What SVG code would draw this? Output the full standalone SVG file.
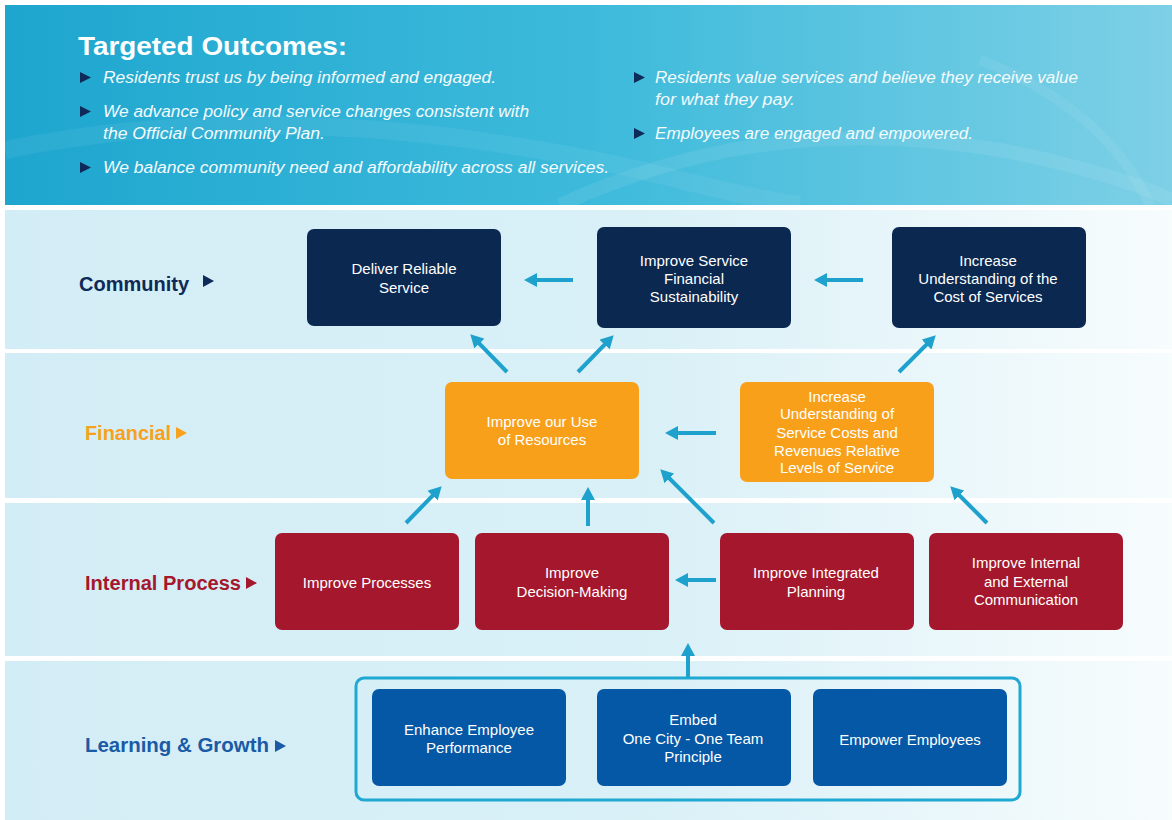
<svg xmlns="http://www.w3.org/2000/svg" width="1172" height="820" viewBox="0 0 1172 820">
  <defs>
    <linearGradient id="hdrGrad" x1="0" y1="0" x2="1" y2="0">
      <stop offset="0" stop-color="#1ea6cf"/>
      <stop offset="0.5" stop-color="#3dbadb"/>
      <stop offset="1" stop-color="#7dd0e6"/>
    </linearGradient>
    <linearGradient id="bandGrad" x1="0" y1="0" x2="1" y2="0">
      <stop offset="0" stop-color="#d3edf6"/>
      <stop offset="0.55" stop-color="#d9f0f7"/>
      <stop offset="1" stop-color="#f7fcfd"/>
    </linearGradient>
    <marker id="arrow" viewBox="0 0 13 14" refX="7" refY="7" markerWidth="13" markerHeight="14" markerUnits="userSpaceOnUse" orient="auto">
      <path d="M0,0 L13,7 L0,14 z" fill="#1ea2cd"/>
    </marker>
    <style>
      .title { font-family: "Liberation Sans", Arial, sans-serif; font-weight: bold; font-size: 26px; fill: #ffffff; }
      .bullet { font-family: "Liberation Sans", Arial, sans-serif; font-style: italic; font-size: 16px; fill: #f4fbfd; }
      .btri { fill: #0d2a58; }
      .row { font-family: "Liberation Sans", Arial, sans-serif; font-weight: bold; font-size: 20px; }
      .node text { font-family: "Liberation Sans", Arial, sans-serif; font-size: 15px; fill: #ffffff; text-anchor: middle; }
      .navy rect { fill: #0b2851; }
      .orange rect { fill: #f9a01b; }
      .red rect { fill: #a5172c; }
      .blue rect { fill: #0558a6; }
      .conn line { stroke: #1ea2cd; stroke-width: 4; marker-end: url(#arrow); }
    </style>
  </defs>

  <rect x="0" y="0" width="1172" height="820" fill="#ffffff"/>

  <!-- header panel -->
  <rect x="5" y="5" width="1167" height="200" fill="url(#hdrGrad)"/>
  <path d="M560,205 C680,150 820,120 1000,150 C1080,165 1140,185 1172,200" fill="none" stroke="#ffffff" stroke-opacity="0.08" stroke-width="14"/>
  <path d="M5,150 C200,110 420,120 640,170 C700,185 760,200 800,205" fill="none" stroke="#ffffff" stroke-opacity="0.06" stroke-width="18"/>
  <path d="M980,60 C1060,90 1120,140 1150,205" fill="none" stroke="#ffffff" stroke-opacity="0.07" stroke-width="10"/>

  <text class="title" x="78" y="55" textLength="269" lengthAdjust="spacingAndGlyphs">Targeted Outcomes:</text>

  <g id="outcomes">
    <polygon class="btri" points="80,72 91,77.5 80,83"/>
    <text class="bullet" x="103" y="83" textLength="393" lengthAdjust="spacingAndGlyphs">Residents trust us by being informed and engaged.</text>
    <polygon class="btri" points="80,106 91,111.5 80,117"/>
    <text class="bullet" x="103" y="117" textLength="426" lengthAdjust="spacingAndGlyphs">We advance policy and service changes consistent with</text>
    <text class="bullet" x="103" y="139" textLength="222" lengthAdjust="spacingAndGlyphs">the Official Community Plan.</text>
    <polygon class="btri" points="80,162 91,167.5 80,173"/>
    <text class="bullet" x="103" y="173" textLength="506" lengthAdjust="spacingAndGlyphs">We balance community need and affordability across all services.</text>
    <polygon class="btri" points="634,72 645,77.5 634,83"/>
    <text class="bullet" x="655" y="83" textLength="423" lengthAdjust="spacingAndGlyphs">Residents value services and believe they receive value</text>
    <text class="bullet" x="655" y="105" textLength="140" lengthAdjust="spacingAndGlyphs">for what they pay.</text>
    <polygon class="btri" points="634,128 645,133.5 634,139"/>
    <text class="bullet" x="655" y="139" textLength="318" lengthAdjust="spacingAndGlyphs">Employees are engaged and empowered.</text>
  </g>

  <!-- perspective bands -->
  <rect x="5" y="210" width="1167" height="139" fill="url(#bandGrad)"/>
  <rect x="5" y="353" width="1167" height="145" fill="url(#bandGrad)"/>
  <rect x="5" y="503" width="1167" height="153" fill="url(#bandGrad)"/>
  <rect x="5" y="661" width="1167" height="159" fill="url(#bandGrad)"/>

  <!-- band labels -->
  <g id="label-community">
    <text class="row" x="79" y="291" fill="#0d2a58" textLength="110" lengthAdjust="spacingAndGlyphs">Community</text>
    <polygon points="203,275 214,281 203,287" fill="#0d2a58"/>
  </g>
  <g id="label-financial">
    <text class="row" x="85" y="440" fill="#f7a11c" textLength="86" lengthAdjust="spacingAndGlyphs">Financial</text>
    <polygon points="176,427 187,433 176,439" fill="#f7a11c"/>
  </g>
  <g id="label-internal">
    <text class="row" x="85" y="590" fill="#a5172c" textLength="156" lengthAdjust="spacingAndGlyphs">Internal Process</text>
    <polygon points="246,577 257,583 246,589" fill="#a5172c"/>
  </g>
  <g id="label-learning">
    <text class="row" x="85" y="752" fill="#1a5aa6" textLength="184" lengthAdjust="spacingAndGlyphs">Learning &amp; Growth</text>
    <polygon points="275,740 286,746 275,752" fill="#1a5aa6"/>
  </g>

  <!-- Learning & Growth grouping frame -->
  <rect x="356" y="678" width="664" height="122" rx="8" fill="none" stroke="#1fa8d2" stroke-width="3"/>

  <!-- connectors -->
  <g id="connectors" class="conn">
    <line x1="573" y1="280" x2="530" y2="280"/>
    <line x1="863" y1="280" x2="820" y2="280"/>
    <line x1="716" y1="433" x2="671" y2="433"/>
    <line x1="716" y1="580" x2="681" y2="580"/>
    <line x1="507" y1="372" x2="474.5" y2="338.6"/>
    <line x1="578" y1="372" x2="609.5" y2="339.6"/>
    <line x1="899" y1="372" x2="931.5" y2="339.6"/>
    <line x1="406" y1="523" x2="437.5" y2="490.6"/>
    <line x1="588" y1="526" x2="588" y2="493"/>
    <line x1="714" y1="523" x2="664.5" y2="473.5"/>
    <line x1="987" y1="523" x2="954.5" y2="490.5"/>
    <line x1="688" y1="677" x2="688" y2="649"/>
  </g>

  <!-- Community -->
  <g id="deliver-reliable-service" class="node navy">
    <rect x="307" y="229" width="194" height="97" rx="7"/>
    <text x="404" y="274">Deliver Reliable</text>
    <text x="404" y="293">Service</text>
  </g>
  <g id="improve-service-financial-sustainability" class="node navy">
    <rect x="597" y="227" width="194" height="101" rx="7"/>
    <text x="694" y="266">Improve Service</text>
    <text x="694" y="284">Financial</text>
    <text x="694" y="302">Sustainability</text>
  </g>
  <g id="increase-understanding-cost" class="node navy">
    <rect x="892" y="227" width="194" height="101" rx="7"/>
    <text x="988" y="266">Increase</text>
    <text x="988" y="284">Understanding of the</text>
    <text x="988" y="302">Cost of Services</text>
  </g>

  <!-- Financial -->
  <g id="improve-use-of-resources" class="node orange">
    <rect x="445" y="382" width="194" height="97" rx="7"/>
    <text x="542" y="427">Improve our Use</text>
    <text x="542" y="445">of Resources</text>
  </g>
  <g id="increase-understanding-service-costs" class="node orange">
    <rect x="740" y="382" width="194" height="100" rx="7"/>
    <text x="837" y="402">Increase</text>
    <text x="837" y="419">Understanding of</text>
    <text x="837" y="438">Service Costs and</text>
    <text x="837" y="456">Revenues Relative</text>
    <text x="837" y="473">Levels of Service</text>
  </g>

  <!-- Internal Process -->
  <g id="improve-processes" class="node red">
    <rect x="275" y="533" width="184" height="97" rx="7"/>
    <text x="367" y="588">Improve Processes</text>
  </g>
  <g id="improve-decision-making" class="node red">
    <rect x="475" y="533" width="194" height="97" rx="7"/>
    <text x="572" y="578">Improve</text>
    <text x="572" y="597">Decision-Making</text>
  </g>
  <g id="improve-integrated-planning" class="node red">
    <rect x="720" y="533" width="194" height="97" rx="7"/>
    <text x="816" y="578">Improve Integrated</text>
    <text x="816" y="597">Planning</text>
  </g>
  <g id="improve-communication" class="node red">
    <rect x="929" y="533" width="194" height="97" rx="7"/>
    <text x="1026" y="568">Improve Internal</text>
    <text x="1026" y="587">and External</text>
    <text x="1026" y="605">Communication</text>
  </g>

  <!-- Learning & Growth -->
  <g id="enhance-employee-performance" class="node blue">
    <rect x="372" y="689" width="194" height="97" rx="7"/>
    <text x="469" y="735">Enhance Employee</text>
    <text x="469" y="753">Performance</text>
  </g>
  <g id="embed-one-city-one-team" class="node blue">
    <rect x="597" y="689" width="194" height="97" rx="7"/>
    <text x="693" y="725">Embed</text>
    <text x="693" y="744">One City - One Team</text>
    <text x="693" y="762">Principle</text>
  </g>
  <g id="empower-employees" class="node blue">
    <rect x="813" y="689" width="194" height="97" rx="7"/>
    <text x="910" y="745">Empower Employees</text>
  </g>
</svg>
